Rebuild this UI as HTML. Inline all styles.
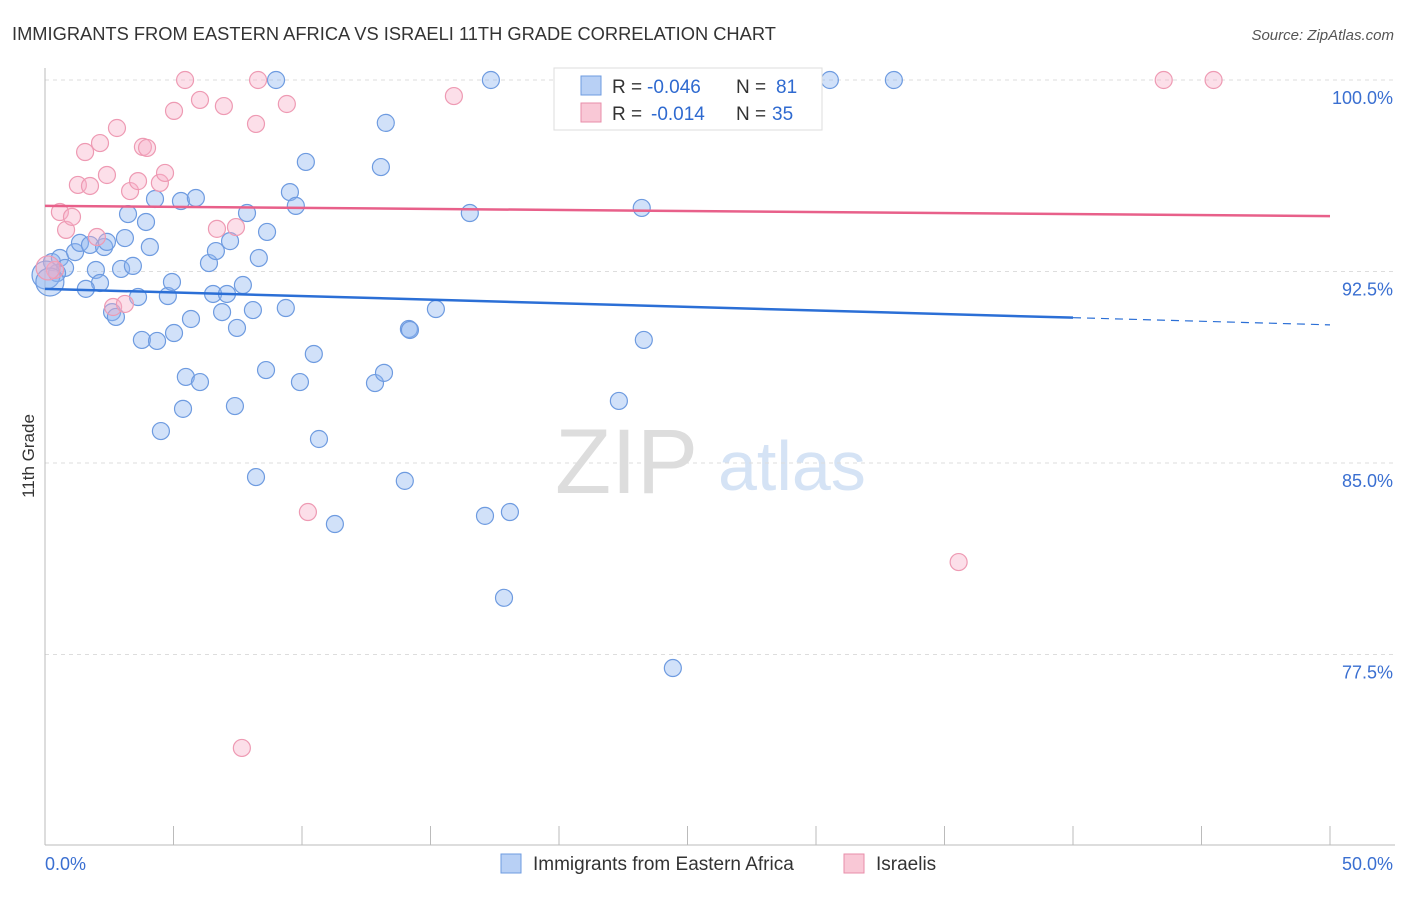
<!DOCTYPE html>
<html><head><meta charset="utf-8"><style>
body{margin:0;background:#fff;font-family:"Liberation Sans",sans-serif}
svg text{font-family:"Liberation Sans",sans-serif}
</style></head><body>
<svg width="1406" height="892" xmlns="http://www.w3.org/2000/svg">
<text x="12" y="40" font-size="18.3" fill="#333">IMMIGRANTS FROM EASTERN AFRICA VS ISRAELI 11TH GRADE CORRELATION CHART</text>
<text x="1394" y="40" font-size="15" fill="#555" text-anchor="end" font-style="italic">Source: ZipAtlas.com</text>
<text x="0" y="0" transform="translate(34,456) rotate(-90)" font-size="17" fill="#333" text-anchor="middle">11th Grade</text>
<g>
<text x="555" y="493" font-size="92" fill="#ddd" font-family="Liberation Serif">ZIP</text>
<text x="718" y="490" font-size="70" fill="#d5e3f5">atlas</text>
</g>
<g id="grid"></g><g id="axes"></g><g id="marks"></g>
<g>
<rect x="554" y="68" width="268" height="62" fill="#fff" stroke="#ddd"/>
<rect x="581" y="76" width="20" height="19" fill="#b8d0f5" stroke="#6e9be0"/>
<rect x="581" y="103" width="20" height="19" fill="#f9c8d6" stroke="#e88eaa"/>
<text x="612" y="93" font-size="19" fill="#333">R =</text>
<text x="647" y="93" font-size="19" fill="#2f6ad0">-0.046</text>
<text x="736" y="93" font-size="19" fill="#333">N =</text>
<text x="776" y="93" font-size="19" fill="#2f6ad0">81</text>
<text x="612" y="120" font-size="19" fill="#333">R =</text>
<text x="651" y="120" font-size="19" fill="#2f6ad0">-0.014</text>
<text x="736" y="120" font-size="19" fill="#333">N =</text>
<text x="772" y="120" font-size="19" fill="#2f6ad0">35</text>
</g>
<g>
<rect x="501" y="854" width="20" height="19" fill="#b8d0f5" stroke="#6e9be0"/>
<text x="533" y="870" font-size="19" fill="#333">Immigrants from Eastern Africa</text>
<rect x="844" y="854" width="20" height="19" fill="#f9c8d6" stroke="#e88eaa"/>
<text x="876" y="870" font-size="19" fill="#333">Israelis</text>
</g>
</svg>
<script>
const yTicks=[100,92.5,85,77.5];
const yTickLabels=["100.0%","92.5%","85.0%","77.5%"];
const blueX=[0.27,0.58,0.78,0.47,1.17,1.36,1.75,1.98,2.14,1.59,2.30,2.41,2.61,2.76,2.96,3.11,3.23,3.42,3.62,3.77,3.93,4.08,4.28,4.36,4.51,4.78,4.94,5.02,5.29,5.37,5.48,5.68,5.87,6.03,6.38,6.54,6.65,6.89,7.08,7.20,7.39,7.47,7.70,7.86,8.09,8.21,8.32,8.60,8.64,8.99,9.37,9.53,9.76,9.92,10.15,10.46,10.66,11.28,12.84,13.07,13.19,13.26,14.00,14.16,14.20,15.21,16.53,17.12,17.35,17.86,18.09,22.33,23.22,23.30,24.43,24.86,30.54,33.03,0.04,0.19];
const blueY=[92.87,93.03,92.64,92.44,93.26,93.62,93.54,92.56,92.05,91.82,93.46,93.66,90.91,90.72,92.60,93.81,94.75,92.72,91.50,89.82,94.44,93.46,95.34,89.78,86.25,91.54,92.09,90.09,95.26,87.12,88.37,90.64,95.38,88.17,92.83,91.62,93.30,90.91,91.62,93.69,87.23,90.29,91.97,94.79,90.99,84.45,93.03,88.64,94.05,100,91.07,95.61,95.07,88.17,96.79,89.27,85.94,82.61,88.13,96.59,88.53,98.32,84.30,90.25,90.21,91.03,94.79,82.93,100,79.72,83.08,87.43,94.99,89.82,76.97,100,100,100,92.36,92.09];
const pinkX=[0.39,0.58,0.82,1.05,1.28,1.56,1.75,2.02,2.14,2.41,2.65,2.80,3.11,3.31,3.62,3.81,3.97,4.47,4.67,5.02,5.45,6.03,6.69,6.96,7.43,7.66,8.21,8.29,9.41,10.23,15.91,35.55,43.53,45.47,0.12];
const pinkY=[92.56,94.83,94.13,94.64,95.89,97.18,95.85,93.85,97.53,96.28,91.11,98.12,91.23,95.65,96.04,97.38,97.34,95.97,96.36,98.79,100,99.22,94.17,98.98,94.24,73.84,98.28,100,99.06,83.08,99.37,81.12,100,100,92.64];
const blueTrend=[91.82,90.41], pinkTrend=[95.07,94.67];
const NS="http://www.w3.org/2000/svg";
const X=v=>45+v/50*1285, Y=v=>80+(100-v)/7.5*191.5;
function mk(p,t,a){const e=document.createElementNS(NS,t);for(const k in a)e.setAttribute(k,a[k]);document.getElementById(p).appendChild(e);return e;}
yTicks.forEach((t,i)=>{
 const g=mk('grid','line',{x1:45,x2:1395,y1:Y(t),y2:Y(t),stroke:'#ddd','stroke-dasharray':'4 4'});
 
 
 const l=mk('axes','text',{x:1393,y:Y(t)+24,'font-size':18,fill:'#3a6fd1','text-anchor':'end'});l.textContent=yTickLabels[i];
 
 
});
const ya=mk('axes','line',{x1:45,x2:45,y1:68,y2:845,stroke:'#bbb'});


const xa=mk('axes','line',{x1:45,x2:1395,y1:845,y2:845,stroke:'#bbb'});


for(let i=0;i<=10;i++){const t=mk('axes','line',{x1:X(i*5),x2:X(i*5),y1:826,y2:845,stroke:'#bbb'});
 
 }
const x0=mk('axes','text',{x:45,y:870,'font-size':18,fill:'#3a6fd1'});x0.textContent='0.0%';


const x1=mk('axes','text',{x:1393,y:870,'font-size':18,fill:'#3a6fd1','text-anchor':'end'});x1.textContent='50.0%';


blueX.forEach((v,i)=>{const c=mk('marks','circle',{cx:X(v),cy:Y(blueY[i]),r:i>=78?14:8.5,fill:'rgba(140,180,240,0.4)',stroke:'#6e9be0','stroke-width':1.2});
 
 });
pinkX.forEach((v,i)=>{const c=mk('marks','circle',{cx:X(v),cy:Y(pinkY[i]),r:i==34?12:8.5,fill:'rgba(248,175,200,0.4)',stroke:'#ee9ab3','stroke-width':1.2});
 
 });
const bt=v=>blueTrend[0]+(blueTrend[1]-blueTrend[0])*v/50;
const b1=mk('marks','line',{x1:X(0),y1:Y(bt(0)),x2:X(40),y2:Y(bt(40)),stroke:'#2b6fd6','stroke-width':2.5});


const b2=mk('marks','line',{x1:X(40),y1:Y(bt(40)),x2:X(50),y2:Y(bt(50)),stroke:'#2b6fd6','stroke-width':1.2,'stroke-dasharray':'8 6'});


const p1=mk('marks','line',{x1:X(0),y1:Y(pinkTrend[0]),x2:X(50),y2:Y(pinkTrend[1]),stroke:'#e8608a','stroke-width':2.5});


</script>
</body></html>
